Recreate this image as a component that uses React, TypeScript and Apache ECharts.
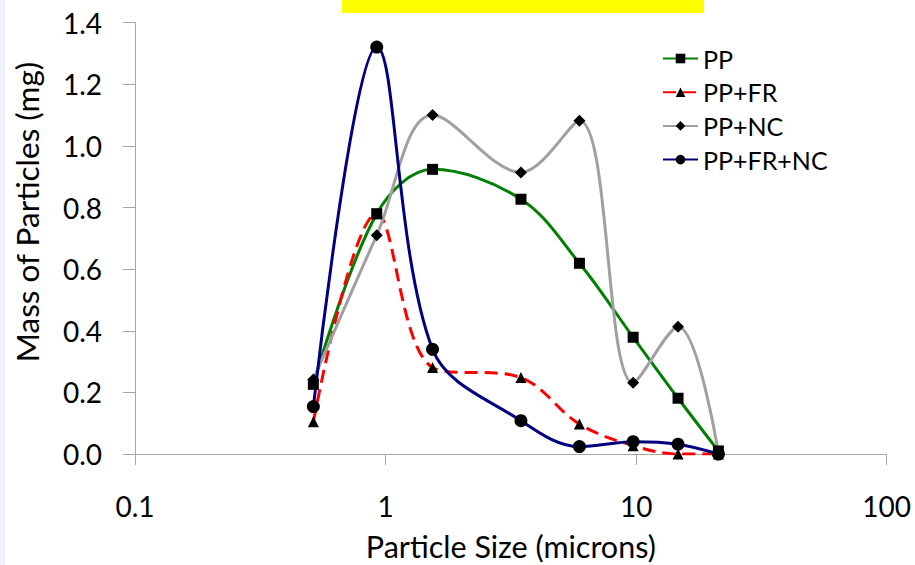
import React, { useEffect, useRef } from "react";
import * as echarts from "echarts";

const sizes = [0.515, 0.922, 1.54, 3.47, 5.94, 9.73, 14.7, 21.3];
const ppValues = [0.226, 0.78, 0.924, 0.827, 0.619, 0.379, 0.181, 0.01];
const ppFrValues = [0.105, 0.78, 0.281, 0.248, 0.097, 0.027, 0.0, 0.0];
const ppNcValues = [0.242, 0.71, 1.1, 0.914, 1.082, 0.231, 0.413, 0.005];
const ppFrNcValues = [0.154, 1.321, 0.34, 0.108, 0.024, 0.04, 0.032, 0.0];
const xTickLabels = ["0.1", "1", "10", "100"];
const yTickLabels = ["0.0", "0.2", "0.4", "0.6", "0.8", "1.0", "1.2", "1.4"];
const xTitle = "Particle Size (microns)";
const yTitle = "Mass of Particles (mg)";

const FONT = "Lato";

function pairs(vals: number[]) {
  return sizes.map((s, i) => [s, vals[i]]);
}

export default function App() {
  const ref = useRef<HTMLDivElement>(null);
  useEffect(() => {
    if (!ref.current) return;
    const chart = echarts.init(ref.current, null, { renderer: "svg" });
    const mk = (
      name: string,
      vals: number[],
      color: string,
      symbol: string,
      symbolSize: number,
      dashed?: boolean
    ) => ({
      name,
      type: "line",
      data: pairs(vals),
      smooth: 0.35,
      symbol,
      symbolSize,
      showAllSymbol: true,
      itemStyle: { color: "#000000" },
      lineStyle: { color, width: 3, type: dashed ? [13, 7] : "solid" },
    });
    chart.setOption({
      animation: false,
      backgroundColor: "#ffffff",
      textStyle: { fontFamily: FONT },
      graphic: [
        { type: "rect", shape: { x: 0, y: 0, width: 5, height: 565 }, style: { fill: "#eef0fa" } },
        { type: "rect", shape: { x: 342, y: 0, width: 362, height: 13 }, style: { fill: "#ffff00" } },
        {
          type: "text",
          x: 27,
          y: 212,
          rotation: Math.PI / 2,
          style: {
            text: yTitle,
            fontFamily: FONT,
            fontSize: 31.5,
            fill: "#000000",
            textAlign: "center",
            textVerticalAlign: "middle",
          },
        },
      ],
      grid: { left: 135, right: 28.3, top: 22.7, bottom: 111, outerBoundsMode: "none" },
      legend: {
        orient: "vertical",
        left: 662,
        top: 46,
        padding: 0,
        itemWidth: 35,
        itemHeight: 12,
        itemGap: 8.7,
        textStyle: { fontFamily: FONT, fontSize: 25, color: "#000000" },
        data: ["PP", "PP+FR", "PP+NC", "PP+FR+NC"],
      },
      xAxis: {
        type: "log",
        logBase: 10,
        min: 0.1,
        max: 100,
        name: xTitle,
        nameLocation: "middle",
        nameGap: 77,
        nameTextStyle: { fontFamily: FONT, fontSize: 30.5, lineHeight: 30.5, color: "#000000" },
        axisLine: { show: true, lineStyle: { color: "#a6a6a6", width: 1 } },
        axisTick: { show: true, length: 11, lineStyle: { color: "#a6a6a6" } },
        axisLabel: {
          fontFamily: FONT,
          fontSize: 28,
          color: "#000000",
          margin: 38,
          formatter: (v: number) => {
            const idx = Math.round(Math.log10(v)) + 1;
            return xTickLabels[idx] ?? String(v);
          },
        },
        splitLine: { show: false },
        minorTick: { show: false },
      },
      yAxis: {
        type: "value",
        min: 0,
        max: 1.4,
        interval: 0.2,
        axisLine: { show: true, lineStyle: { color: "#a6a6a6", width: 1 } },
        axisTick: { show: true, length: 12, lineStyle: { color: "#a6a6a6" } },
        axisLabel: {
          fontFamily: FONT,
          fontSize: 28,
          color: "#000000",
          margin: 33,
          formatter: (v: number) => yTickLabels[Math.round(v / 0.2)] ?? v.toFixed(1),
        },
        splitLine: { show: false },
      },
      series: [
        mk("PP", ppValues, "#008000", "rect", 11),
        mk("PP+FR", ppFrValues, "#ff0000", "triangle", 11, true),
        mk("PP+NC", ppNcValues, "#a0a0a0", "diamond", 12),
        mk("PP+FR+NC", ppFrNcValues, "#000080", "circle", 13),
      ],
    });
    return () => chart.dispose();
  }, []);
  return (
    <div
      ref={ref}
      style={{ position: "absolute", left: 0, top: 0, width: 915, height: 565, background: "#fff" }}
    />
  );
}
